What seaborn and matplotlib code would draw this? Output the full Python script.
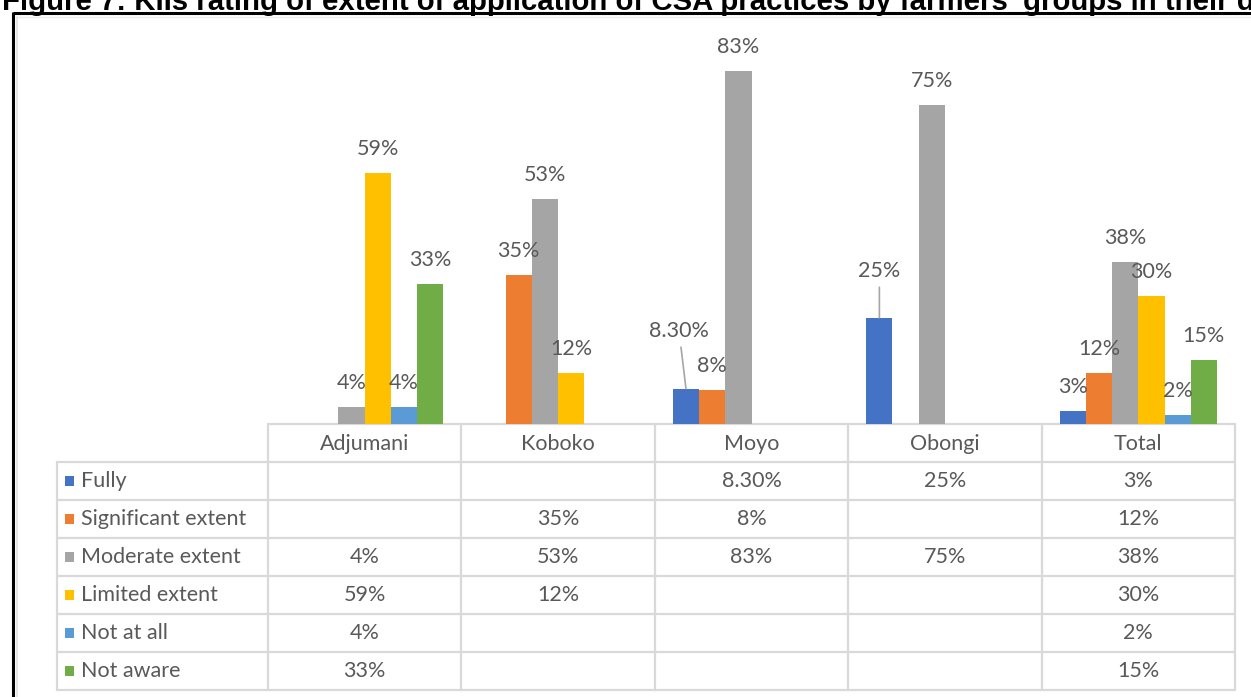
import numpy as np
import pandas as pd
import matplotlib
matplotlib.use("Agg")
import matplotlib.pyplot as plt
import seaborn as sns

# ---- data -------------------------------------------------------------
categories = ["Adjumani", "Koboko", "Moyo", "Obongi", "Total"]
ratings = ["Fully", "Significant extent", "Moderate extent",
           "Limited extent", "Not at all", "Not aware"]

fully = ["", "", "8.30%", "25%", "3%"]
significant = ["", "35%", "8%", "", "12%"]
moderate = ["4%", "53%", "83%", "75%", "38%"]
limited = ["59%", "12%", "", "", "30%"]
not_at_all = ["4%", "", "", "", "2%"]
not_aware = ["33%", "", "", "", "15%"]

colors = ["#4472C4", "#ED7D31", "#A5A5A5", "#FFC000", "#5B9BD5", "#70AD47"]

title = ("Figure 7: KIIs rating of extent of application of CSA practices "
         "by farmers' groups in their districts")

series_labels = [fully, significant, moderate, limited, not_at_all, not_aware]
rows = []
for rating, labels in zip(ratings, series_labels):
    for district, text in zip(categories, labels):
        if text:
            rows.append({"district": district, "rating": rating,
                         "pct": float(text.rstrip("%")), "label": text})
df = pd.DataFrame(rows)
label_of = {(r["district"], r["rating"]): r["label"] for r in rows}

# ---- style ------------------------------------------------------------
sns.set_theme(style="white")
plt.rcParams["font.family"] = ["Lato", "DejaVu Sans"]
TXT = "#595959"
GRID = "#D9D9D9"
FS = 15.5

W, H = 1251, 697
fig = plt.figure(figsize=(W / 100, H / 100), dpi=100)
fig.patch.set_facecolor("white")


def px_rect(x0, y0, x1, y1):
    return [x0 / W, 1 - y1 / H, (x1 - x0) / W, (y1 - y0) / H]


# overlay in pixel units for frame and data table
tax = fig.add_axes([0, 0, 1, 1])
tax.set_xlim(0, W)
tax.set_ylim(H, 0)
tax.axis("off")

# ---- bars -------------------------------------------------------------
ax = fig.add_axes(px_rect(268, 41.5, 1235, 424))
sns.barplot(data=df, x="district", y="pct", hue="rating",
            order=categories, hue_order=ratings, palette=colors,
            saturation=1, width=0.813, errorbar=None, linewidth=0,
            legend=False, ax=ax)
ax.set_xlim(-0.5, len(categories) - 0.5)
ax.set_ylim(0, 90)
ax.axis("off")

# data labels (two labels are pulled up with leader lines)
moved = {("Moyo", "Fully"): (-7, 58), ("Obongi", "Fully"): (0, 47)}
for rating, cont in zip(ratings, ax.containers):
    for bar in cont:
        h = bar.get_height()
        if not np.isfinite(h):
            continue
        xc = bar.get_x() + bar.get_width() / 2
        district = categories[int(round(xc))]
        text = label_of[(district, rating)]
        if (district, rating) in moved:
            dx, dy = moved[(district, rating)]
            ax.annotate(text, xy=(xc, h), xytext=(dx, dy),
                        textcoords="offset pixels", ha="center", va="center",
                        fontsize=FS, color=TXT,
                        bbox=dict(boxstyle="square,pad=0.3", fc="none", ec="none"),
                        arrowprops=dict(arrowstyle="-", color="#A6A6A6", lw=1.2,
                                        shrinkA=0, shrinkB=0))
        else:
            ax.annotate(text, xy=(xc, h), xytext=(0, 24),
                        textcoords="offset pixels", ha="center", va="center",
                        fontsize=FS, color=TXT)

# ---- data table -------------------------------------------------------
fig.canvas.draw()
col_x = [ax.transData.transform((i - 0.5, 0))[0] for i in range(len(categories) + 1)]
table_left = 57
top, header_bottom, row_h = 424, 462, 38
n_rows = len(ratings)
bottom = header_bottom + n_rows * row_h

# horizontal rules
tax.plot([col_x[0], col_x[-1]], [top, top], color=GRID, lw=1.6)
for k in range(n_rows + 1):
    y = header_bottom + k * row_h
    tax.plot([table_left, col_x[-1]], [y, y], color=GRID, lw=1.6)
# vertical rules
tax.plot([table_left, table_left], [header_bottom, bottom], color=GRID, lw=1.6)
for x in col_x:
    tax.plot([x, x], [top, bottom], color=GRID, lw=1.6)

# header
for i, name in enumerate(categories):
    tax.text((col_x[i] + col_x[i + 1]) / 2, (top + header_bottom) / 2 + 1, name,
             ha="center", va="center", fontsize=FS, color=TXT)

# rows
for k, (rating, labels, c) in enumerate(zip(ratings, series_labels, colors)):
    yc = header_bottom + (k + 0.5) * row_h
    tax.add_patch(plt.Rectangle((65, yc - 5), 9, 10, color=c, lw=0))
    tax.text(81, yc, rating, ha="left", va="center", fontsize=FS, color=TXT)
    for i, text in enumerate(labels):
        if text:
            tax.text((col_x[i] + col_x[i + 1]) / 2, yc, text,
                     ha="center", va="center", fontsize=FS, color=TXT)

# ---- frame and caption ------------------------------------------------
tax.plot([17, 17], [17, H], color="#E3E3E3", lw=1.2)
tax.plot([17, W], [17, 17], color="#EDEDED", lw=1.0)
tax.plot([12.5, W], [12.5, 12.5], color="black", lw=2.2, solid_capstyle="butt")
tax.plot([12.5, 12.5], [11.5, H], color="black", lw=2.2, solid_capstyle="butt")

fig.text(2 / W, 1 - 10 / H, title, ha="left", va="baseline",
         fontsize=21.2, fontweight="bold", family="Liberation Sans", color="black")

fig.savefig("out.png", dpi=100, facecolor="white")
